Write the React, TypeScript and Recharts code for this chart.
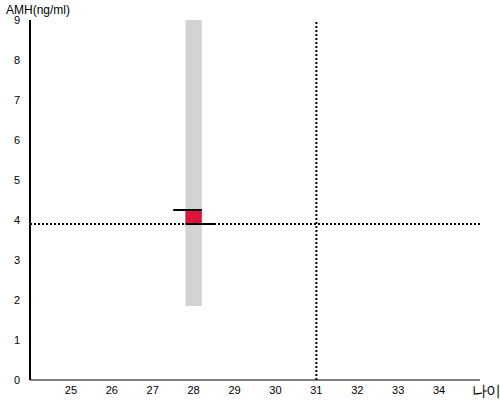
import { ComposedChart, XAxis, YAxis, ReferenceArea, ReferenceLine } from "recharts";

// x = age, y = AMH (ng/ml)
const ageTicks = [25, 26, 27, 28, 29, 30, 31, 32, 33, 34];
const amhTicks = [0, 1, 2, 3, 4, 5, 6, 7, 8, 9];
const patientAge = 28;
const normalRange = [1.85, 9];
const patientBox = [3.9, 4.25];
const markerAge = 31;
const markerAmh = 3.9;

const font = "'Liberation Sans', Arial, sans-serif";

export default function App() {
  const half = 0.2;
  return (
    <div style={{ position: "absolute", left: 0, top: 0, width: 500, height: 400, fontFamily: font }}>
      <ComposedChart
        width={500}
        height={400}
        data={[{ age: patientAge, amh: markerAmh }]}
        margin={{ top: 20, right: 20, bottom: 0, left: 0 }}
      >
        <XAxis
          type="number"
          dataKey="age"
          domain={[24, 35]}
          ticks={ageTicks}
          tickLine={false}
          tickSize={0}
          height={20}
          axisLine={{ stroke: "#000", strokeWidth: 1 }}
          tick={{ fill: "#000", fontSize: 11, fontFamily: font, dy: 4 }}
          allowDataOverflow
        />
        <YAxis
          type="number"
          domain={[0, 9]}
          ticks={amhTicks}
          tickLine={false}
          tickSize={0}
          width={30}
          axisLine={{ stroke: "#000", strokeWidth: 2 }}
          tick={{ fill: "#000", fontSize: 11, fontFamily: font, dx: -8 }}
          allowDataOverflow
        />
        <ReferenceArea
          x1={patientAge - half}
          x2={patientAge + half}
          y1={normalRange[0]}
          y2={normalRange[1]}
          fill="#d3d3d3"
          fillOpacity={1}
          stroke="none"
        />
        <ReferenceArea
          x1={patientAge - half}
          x2={patientAge + half}
          y1={patientBox[0]}
          y2={patientBox[1]}
          fill="#dc143c"
          fillOpacity={1}
          stroke="none"
        />
        <ReferenceLine
          segment={[
            { x: patientAge - 0.5, y: patientBox[1] },
            { x: patientAge + half, y: patientBox[1] },
          ]}
          stroke="#000"
          strokeWidth={2}
        />
        <ReferenceLine
          segment={[
            { x: patientAge - half, y: patientBox[0] },
            { x: patientAge + 0.5, y: patientBox[0] },
          ]}
          stroke="#000"
          strokeWidth={2}
        />
        <ReferenceLine y={markerAmh} stroke="#000" strokeWidth={2} strokeDasharray="2 2" />
        <ReferenceLine x={markerAge} stroke="#000" strokeWidth={2} strokeDasharray="2 2" />
      </ComposedChart>
      <div style={{ position: "absolute", left: 6, top: 3, fontSize: 12, color: "#000", whiteSpace: "nowrap" }}>AMH(ng/ml)</div>
      <div style={{ position: "absolute", left: 472, top: 382, fontSize: 15, letterSpacing: -1.5, color: "#000", whiteSpace: "nowrap" }}>나이</div>
    </div>
  );
}
